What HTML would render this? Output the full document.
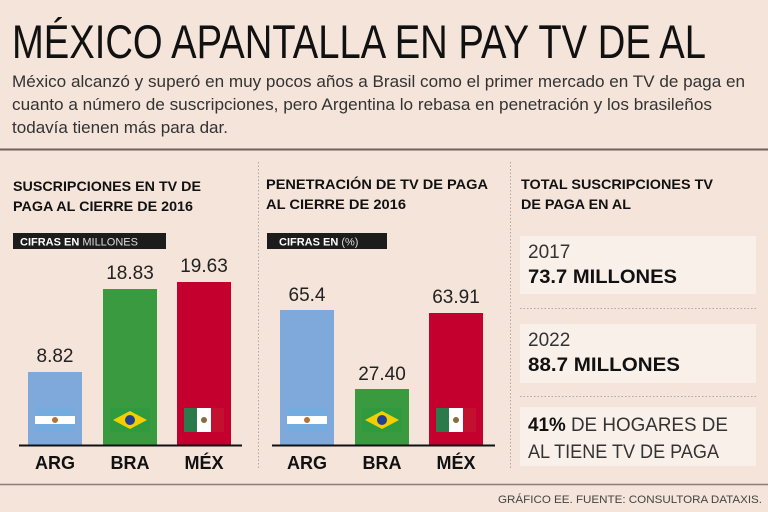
<!DOCTYPE html>
<html><head><meta charset="utf-8"><style>
html,body{margin:0;padding:0;background:#f4e4da;}
svg{display:block;font-family:"Liberation Sans",sans-serif;}
</style></head><body>
<svg width="768" height="512" viewBox="0 0 768 512" xmlns="http://www.w3.org/2000/svg">
<rect width="768" height="512" fill="#f4e4da"/>
<text x="12" y="58" font-size="47" fill="#111" textLength="694" lengthAdjust="spacingAndGlyphs">MÉXICO APANTALLA EN PAY TV DE AL</text>
<g font-size="17" fill="#333">
<text x="12" y="87" textLength="733" lengthAdjust="spacingAndGlyphs">México alcanzó y superó en muy pocos años a Brasil como el primer mercado en TV de paga en</text>
<text x="12" y="110" textLength="700" lengthAdjust="spacingAndGlyphs">cuanto a número de suscripciones, pero Argentina lo rebasa en penetración y los brasileños</text>
<text x="12" y="133" textLength="216" lengthAdjust="spacingAndGlyphs">todavía tienen más para dar.</text>
</g>
<line x1="0" y1="149.5" x2="768" y2="149.5" stroke="#6e625c" stroke-width="2"/>
<line x1="0" y1="484.5" x2="768" y2="484.5" stroke="#8a7d76" stroke-width="1.5"/>
<line x1="258.5" y1="162" x2="258.5" y2="470" stroke="#aaa" stroke-dasharray="1.5,2"/>
<line x1="510.5" y1="162" x2="510.5" y2="470" stroke="#aaa" stroke-dasharray="1.5,2"/>

<g font-size="14" font-weight="bold" fill="#111">
<text x="13" y="191" textLength="188" lengthAdjust="spacingAndGlyphs">SUSCRIPCIONES EN TV DE</text>
<text x="13" y="211" textLength="180" lengthAdjust="spacingAndGlyphs">PAGA AL CIERRE DE 2016</text>
<text x="266" y="189" textLength="222" lengthAdjust="spacingAndGlyphs">PENETRACIÓN DE TV DE PAGA</text>
<text x="266" y="209" textLength="140" lengthAdjust="spacingAndGlyphs">AL CIERRE DE 2016</text>
<text x="521" y="189" textLength="192" lengthAdjust="spacingAndGlyphs">TOTAL SUSCRIPCIONES TV</text>
<text x="521" y="209" textLength="110" lengthAdjust="spacingAndGlyphs">DE PAGA EN AL</text>
</g>

<rect x="13" y="233" width="153" height="16" fill="#1c1c1c"/>
<text x="20" y="245.5" font-size="11" fill="#fff"><tspan font-weight="bold">CIFRAS EN</tspan> <tspan fill="#ddd">MILLONES</tspan></text>
<rect x="267" y="233" width="120" height="16" fill="#1c1c1c"/>
<text x="279" y="245.5" font-size="11" fill="#fff"><tspan font-weight="bold">CIFRAS EN</tspan> <tspan fill="#ddd">(%)</tspan></text>

<!-- panel 1 -->
<rect x="28" y="372" width="54" height="73" fill="#7ea9da"/>
<rect x="103" y="289" width="54" height="156" fill="#3a9a40"/>
<rect x="177" y="282" width="54" height="163" fill="#c4002f"/>
<!-- panel 2 -->
<rect x="280" y="310" width="54" height="135" fill="#7ea9da"/>
<rect x="355" y="389" width="54" height="56" fill="#3a9a40"/>
<rect x="429" y="313" width="54" height="132" fill="#c4002f"/>

<g font-size="19" fill="#222" text-anchor="middle">
<text x="55" y="362">8.82</text>
<text x="130" y="279">18.83</text>
<text x="204" y="272">19.63</text>
<text x="307" y="301">65.4</text>
<text x="382" y="380">27.40</text>
<text x="456" y="303">63.91</text>
</g>

<defs>
<g id="arg"><rect x="0" y="0" width="40" height="24" fill="#74acdf"/><rect x="0" y="8" width="40" height="8" fill="#fff"/><circle cx="20" cy="12" r="3" fill="#b5733a"/></g>
<g id="bra"><rect x="0" y="0" width="40" height="24" fill="#2f9a3e"/><polygon points="20,3 37,12 20,21 3,12" fill="#f2d000"/><circle cx="20" cy="12" r="5" fill="#23408e"/></g>
<g id="mex"><rect x="0" y="0" width="40" height="24" fill="#c4102f"/><rect x="0" y="0" width="13" height="24" fill="#2b7a4b"/><rect x="13" y="0" width="14" height="24" fill="#fff"/><circle cx="20" cy="12" r="3" fill="#8a6b3a"/></g>
</defs>
<use href="#arg" x="35" y="408"/>
<use href="#bra" x="110" y="408"/>
<use href="#mex" x="184" y="408"/>
<use href="#arg" x="287" y="408"/>
<use href="#bra" x="362" y="408"/>
<use href="#mex" x="436" y="408"/>

<line x1="19" y1="445.5" x2="242" y2="445.5" stroke="#111" stroke-width="2"/>
<line x1="272" y1="445.5" x2="495" y2="445.5" stroke="#111" stroke-width="2"/>
<g font-size="18" font-weight="bold" fill="#111" text-anchor="middle">
<text x="55" y="469">ARG</text><text x="130" y="469">BRA</text><text x="204" y="469">MÉX</text>
<text x="307" y="469">ARG</text><text x="382" y="469">BRA</text><text x="456" y="469">MÉX</text>
</g>

<!-- right panel -->
<rect x="520" y="236" width="236" height="58" fill="#faf0ea"/>
<rect x="520" y="324" width="236" height="59" fill="#faf0ea"/>
<rect x="520" y="407" width="236" height="59" fill="#faf0ea"/>
<line x1="520" y1="308.5" x2="756" y2="308.5" stroke="#aaa" stroke-dasharray="1.5,2"/>
<line x1="520" y1="396.5" x2="756" y2="396.5" stroke="#aaa" stroke-dasharray="1.5,2"/>
<text x="528" y="258" font-size="19" fill="#333">2017</text>
<text x="528" y="283" font-size="19" font-weight="bold" fill="#111" textLength="149" lengthAdjust="spacingAndGlyphs">73.7 MILLONES</text>
<text x="528" y="346" font-size="19" fill="#333">2022</text>
<text x="528" y="371" font-size="19" font-weight="bold" fill="#111" textLength="152" lengthAdjust="spacingAndGlyphs">88.7 MILLONES</text>
<text x="528" y="431" font-size="19" fill="#333" textLength="200" lengthAdjust="spacingAndGlyphs"><tspan font-weight="bold" fill="#111">41%</tspan> DE HOGARES DE</text>
<text x="528" y="458" font-size="19" fill="#333" textLength="191" lengthAdjust="spacingAndGlyphs">AL TIENE TV DE PAGA</text>

<text x="762" y="503" font-size="11" fill="#444" text-anchor="end" textLength="264" lengthAdjust="spacingAndGlyphs">GRÁFICO EE. FUENTE: CONSULTORA DATAXIS.</text>
</svg>
</body></html>
